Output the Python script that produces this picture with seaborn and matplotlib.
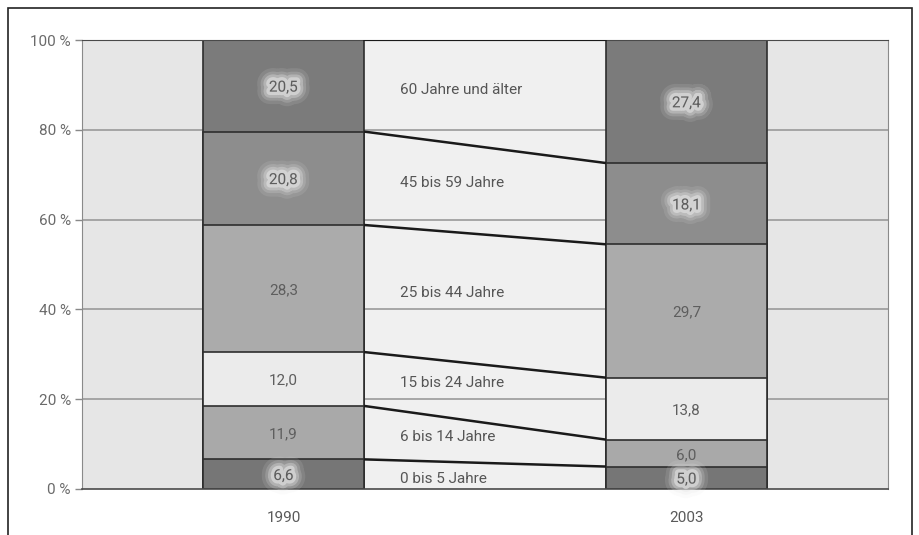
import numpy as np
import pandas as pd
import matplotlib
matplotlib.use("Agg")
import matplotlib.pyplot as plt
import matplotlib.patheffects as pe
from matplotlib.patches import Rectangle
import seaborn as sns

# data (percent shares by age group, bottom to top)
years = ["1990", "2003"]
groups = ["0 bis 5 Jahre", "6 bis 14 Jahre", "15 bis 24 Jahre",
          "25 bis 44 Jahre", "45 bis 59 Jahre", "60 Jahre und älter"]
share_1990 = [6.6, 11.9, 12.0, 28.3, 20.8, 20.5]
share_2003 = [5.0, 6.0, 13.8, 29.7, 18.1, 27.4]
colors = ["#767676", "#a9a9a9", "#ebebeb", "#ababab", "#8d8d8d", "#7b7b7b"]
glow = [True, False, False, False, True, True]
yticks = [0, 20, 40, 60, 80, 100]

sns.set_style("white")
plt.rcParams["font.family"] = ["Roboto", "DejaVu Sans"]

df = pd.DataFrame({"Altersgruppe": groups, "1990": share_1990, "2003": share_2003})
cum = df[years].cumsum()
cum.iloc[-1] = 100  # rounding, stack ends at 100 %

fig = plt.figure(figsize=(9.19, 5.35), dpi=100)
ax = fig.add_axes([82 / 919, 46 / 535, 806 / 919, 449 / 535])
ax.set_facecolor("#e6e6e6")

bar_w = 0.4
# middle panel between the two bars
ax.axvspan(bar_w / 2, 1 - bar_w / 2, ymin=0, ymax=1, color="#f0f0f0", zorder=0.4, lw=0)
for t in yticks[1:]:
    ax.axhline(t, color="#9a9a9a", lw=1.2, zorder=0.6)

# stacked bars: draw cumulative tops from highest down
for i in reversed(range(len(groups))):
    long = pd.DataFrame({"Jahr": years, "Wert": cum.iloc[i].values})
    sns.barplot(data=long, x="Jahr", y="Wert", color=colors[i], width=bar_w,
                saturation=1, edgecolor="#2e2e2e", linewidth=1.2, ax=ax, zorder=2)

# connecting lines between segment boundaries
for i in range(len(groups) - 1):
    ax.plot([bar_w / 2, 1 - bar_w / 2], [cum["1990"].iloc[i], cum["2003"].iloc[i]],
            color="#1a1a1a", lw=1.8, zorder=3, solid_capstyle="butt")
ax.plot([bar_w / 2, 1 - bar_w / 2], [100, 100], color="#1a1a1a", lw=1.5, zorder=3)

# soft halo behind labels on dark segments
halo = [pe.Stroke(linewidth=w, foreground="#e4e4e4", alpha=a)
        for w, a in [(18, 0.12), (13, 0.2), (9, 0.35), (5, 0.6)]] + [pe.Normal()]

# value labels inside the bars
mids_1990 = None
for j, y in enumerate(years):
    bottoms = np.concatenate([[0], cum[y].values[:-1]])
    mids = (bottoms + cum[y].values) / 2
    if j == 0:
        mids_1990 = mids
    for i in range(len(groups)):
        txt = ax.text(j, mids[i] - 0.4, f"{df[y].iloc[i]:.1f}".replace(".", ","),
                      ha="center", va="center", fontsize=11, color="#5e5e5e", zorder=4)
        if glow[i]:
            txt.set_path_effects(halo)

# group names in the middle panel, level with the 1990 segments
for i, g in enumerate(groups):
    ax.text(0.29, mids_1990[i] - 1, g, ha="left", va="center", fontsize=11,
            color="#555555", zorder=4)

ax.set_xlim(-0.5, 1.5)
ax.set_ylim(0, 100)
ax.set_yticks(yticks)
ax.set_yticklabels([f"{t} %" for t in yticks])
ax.set_xlabel("")
ax.set_ylabel("")
ax.tick_params(axis="y", left=True, length=5, width=1, color="#888888",
               labelsize=11, labelcolor="#6a6a6a", pad=3)
ax.tick_params(axis="x", bottom=False, labelsize=11, labelcolor="#5a5a5a", pad=12)
for s in ["left", "right"]:
    ax.spines[s].set_color("#8a8a8a")
ax.spines["top"].set_color("#4a4a4a")
ax.spines["bottom"].set_color("#4a4a4a")
ax.spines["bottom"].set_linewidth(1.2)

# frame around the figure (open at the bottom)
fig.patches.append(Rectangle((8 / 919, -0.05), 904 / 919, 1.05 - 8 / 535,
                             transform=fig.transFigure, fill=False,
                             edgecolor="#222222", lw=1.2))

fig.savefig("out.png", dpi=100)
